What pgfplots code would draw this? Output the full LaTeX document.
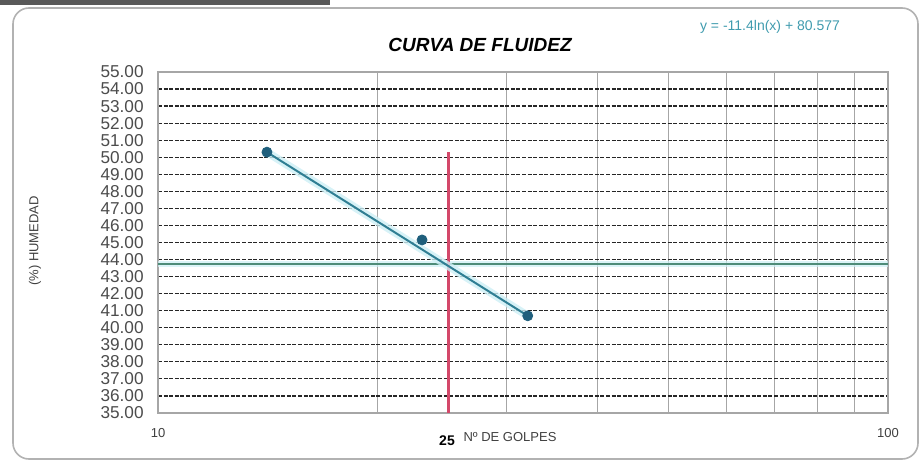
\documentclass[border=0pt]{standalone}
\usepackage{fontspec}
\setmainfont{Liberation Sans}
\usepackage{pgfplots}
\pgfplotsset{compat=1.18}
\definecolor{trend}{HTML}{2F7E93}
\definecolor{halo}{HTML}{CDEFF5}
\definecolor{pts}{HTML}{1F5F7C}
\definecolor{redline}{HTML}{D4486A}
\definecolor{greenline}{HTML}{4E8C78}
\definecolor{eqcol}{HTML}{3F9BAE}
\begin{document}
\begin{tikzpicture}
\begin{axis}[
  at={(0,0)}, anchor=south west,
  scale only axis, width=365pt, height=170.5pt,
  xmode=log, xmin=10, xmax=100, ymin=35, ymax=55,
  xtick={10,100}, xticklabels={10,100},
  minor xtick={20,30,40,50,60,70,80,90},
  ytick={35,36,...,55},
  xminorgrids, ymajorgrids,
  major tick length=0pt, minor tick length=0pt,
  major grid style={black!85, dash pattern=on 2pt off 0.8pt, line width=0.6pt},
  minor grid style={gray!70, line width=0.5pt},
  axis line style={gray!70, line width=0.6pt},
  yticklabel style={/pgf/number format/fixed, /pgf/number format/fixed zerofill,
    /pgf/number format/precision=2, /pgf/number format/assume math mode=true,
    font=\fontsize{8.6}{8.6}\selectfont, text=black!70, inner sep=0pt, xshift=-7pt},
  xticklabel style={font=\fontsize{6.5}{7}\selectfont, text=black!75, yshift=-4pt},
]
% green horizontal line at humidity for 25 golpes
\addplot[halo, line width=3pt, opacity=0.7] coordinates {(10,43.75) (100,43.75)};
\addplot[greenline, line width=1.2pt] coordinates {(10,43.75) (100,43.75)};
% red vertical line at 25 golpes
\addplot[redline, line width=1.3pt] coordinates {(25,35) (25,50.3)};
% trend line
\addplot[halo, line width=4pt, opacity=0.8] coordinates {(14.1,50.3) (32.1,40.7)};
\addplot[trend, line width=1pt] coordinates {(14.1,50.3) (32.1,40.7)};
% measured points
\addplot[only marks, mark=*, mark size=2.5pt, draw=pts, fill=pts] coordinates {
  (14.1,50.3) (23.0,45.15) (32.1,40.7)
};
\end{axis}
% texts around the axis
\node[font=\bfseries\itshape\fontsize{9.5}{10}\selectfont] at (161pt,184pt) {CURVA DE FLUIDEZ};
\node[text=eqcol, font=\fontsize{7}{8}\selectfont] at (306pt,193pt) {y = -11.4ln(x) + 80.577};
\node[rotate=90, font=\fontsize{6.5}{7}\selectfont, text=black!75] at (-61.5pt,86pt) {(\%) HUMEDAD};
\node[font=\fontsize{6.5}{7}\selectfont, text=black!75] at (176pt,-12pt) {Nº DE GOLPES};
\node[font=\bfseries\fontsize{7}{8}\selectfont] at (144.5pt,-14pt) {25};
% chart frame
\draw[gray!60, line width=0.8pt, rounded corners=8pt] (-72.5pt,-23pt) rectangle (380pt,202.5pt);
\fill[black!65] (-79pt,204pt) rectangle (86pt,206.5pt);
\pgfresetboundingbox
\path[use as bounding box] (-79pt,-26.5pt) rectangle (381.5pt,206.5pt);
\end{tikzpicture}
\end{document}
